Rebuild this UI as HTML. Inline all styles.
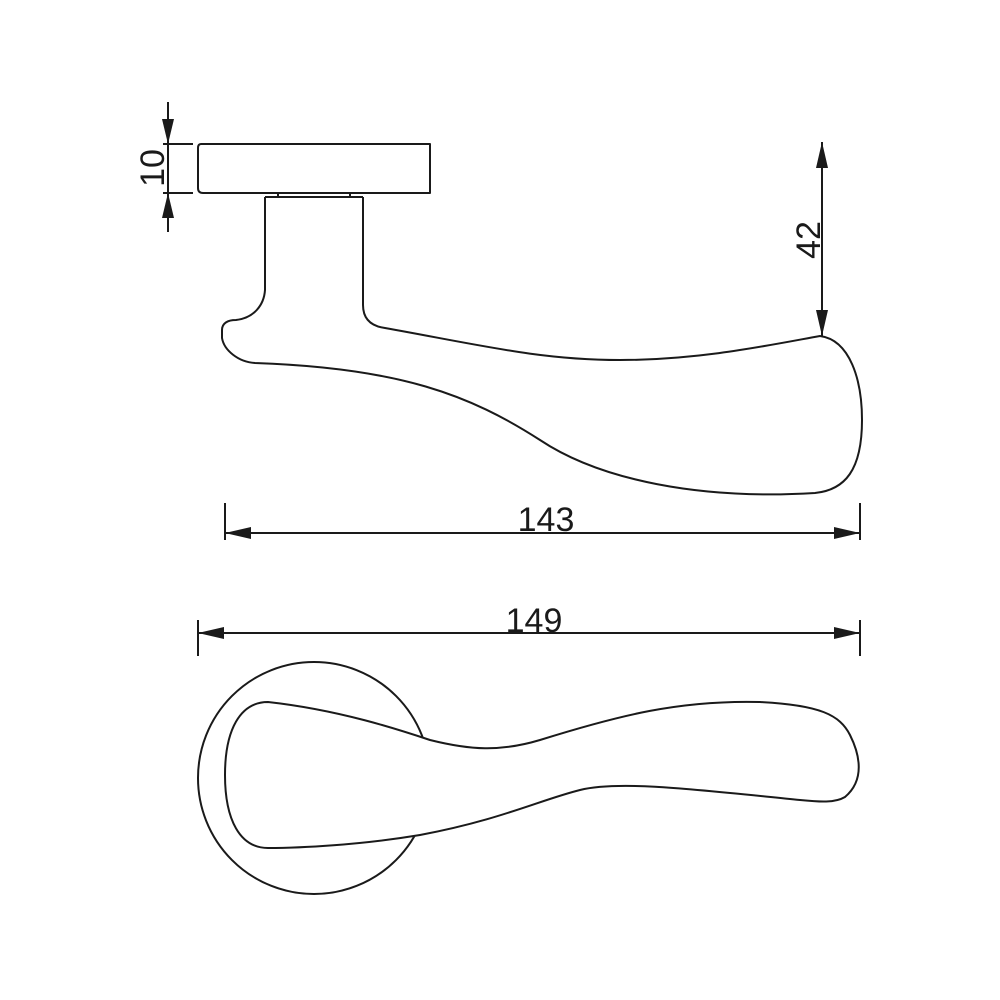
<!DOCTYPE html>
<html><head><meta charset="utf-8"><style>
html,body{margin:0;padding:0;background:#fff;}
svg{display:block;}
text{font-family:"Liberation Sans",sans-serif;fill:#1a1a1a;}
</style></head><body>
<svg width="1000" height="1000" viewBox="0 0 1000 1000" xmlns="http://www.w3.org/2000/svg">
<g fill="none" stroke="#1a1a1a" stroke-width="2" stroke-linejoin="round">
  <!-- rosette side -->
  <path d="M201,144 L430,144 L430,193 L203,193 Q198,193 198,188 L198,148 Q198,144 201,144 Z"/>
  <path d="M278,193 L278,197 M350,193 L350,197 M265,197 L363,197"/>
  <!-- side lever -->
  <path d="M265,197 L265,290 C264,305 254,318 236,320 C228,320 222,323 222,330 L222,338 C224,350 238,362 255,363 C400,368 470,395 540,440 C600,480 700,500 815,493 C845,490 862,470 862,420 C862,380 850,340 820,336 C770,345 700,360 620,360 C540,360 480,345 385,328 C370,326 363,318 363,305 L363,197"/>
  <!-- dimension 10 -->
  <path d="M163,144 L193,144 M163,193 L193,193 M168,102 L168,232"/>
  <!-- dimension 42 -->
  <path d="M822,142 L822,336"/>
  <!-- dimension 143 -->
  <path d="M225,503 L225,540 M860,503 L860,540 M225,533 L860,533"/>
  <!-- dimension 149 -->
  <path d="M198,620 L198,656 M860,620 L860,656 M198,633 L860,633"/>
  <!-- rosette top -->
  <circle cx="314" cy="778" r="116"/>
  <path fill="#fff" d="M268,702 C340,710 400,730 430,740 C470,750 500,752 540,740 C620,715 680,700 760,702 C820,705 840,715 850,735 C860,755 865,780 845,797 C835,803 820,802 800,800 C700,790 620,780 580,790 C540,800 500,820 420,835 C360,845 300,848 268,848 C240,848 225,820 225,775 C225,730 240,702 268,702 Z"/>
</g>
<g fill="#1a1a1a">
  <polygon points="168,144 162,119 174,119"/>
  <polygon points="168,193 162,218 174,218"/>
  <polygon points="822,142 816,168 828,168"/>
  <polygon points="822,336 816,310 828,310"/>
  <polygon points="225,533 251,527 251,539"/>
  <polygon points="860,533 834,527 834,539"/>
  <polygon points="198,633 224,627 224,639"/>
  <polygon points="860,633 834,627 834,639"/>
</g>
<text x="546" y="531" font-size="34" text-anchor="middle">143</text>
<text x="534" y="632" font-size="34" text-anchor="middle">149</text>
<text transform="translate(164,168) rotate(-90)" font-size="34" text-anchor="middle">10</text>
<text transform="translate(820,240) rotate(-90)" font-size="34" text-anchor="middle">42</text>
</svg>
</body></html>
